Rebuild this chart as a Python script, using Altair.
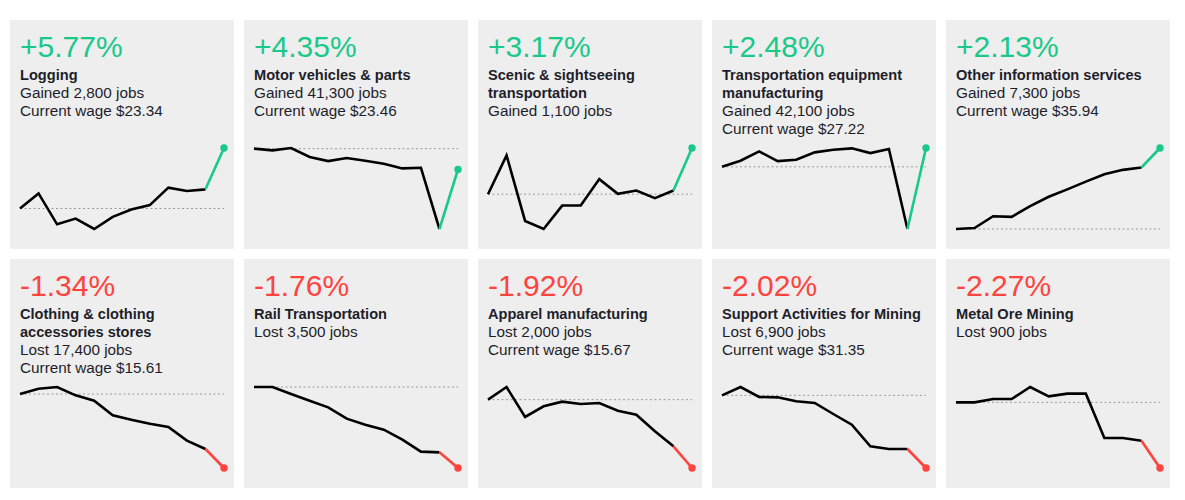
import altair as alt
import pandas as pd

# ---- data ----
pct_labels = ["+5.77%", "+4.35%", "+3.17%", "+2.48%", "+2.13%",
              "-1.34%", "-1.76%", "-1.92%", "-2.02%", "-2.27%"]
title_lines = [
    ["Logging"],
    ["Motor vehicles & parts"],
    ["Scenic & sightseeing", "transportation"],
    ["Transportation equipment", "manufacturing"],
    ["Other information services"],
    ["Clothing & clothing", "accessories stores"],
    ["Rail Transportation"],
    ["Apparel manufacturing"],
    ["Support Activities for Mining"],
    ["Metal Ore Mining"],
]
jobs_text = ["Gained 2,800 jobs", "Gained 41,300 jobs", "Gained 1,100 jobs",
             "Gained 42,100 jobs", "Gained 7,300 jobs", "Lost 17,400 jobs",
             "Lost 3,500 jobs", "Lost 2,000 jobs", "Lost 6,900 jobs", "Lost 900 jobs"]
wage_text = ["Current wage $23.34", "Current wage $23.46", "",
             "Current wage $27.22", "Current wage $35.94", "Current wage $15.61",
             "", "Current wage $15.67", "Current wage $31.35", ""]
series = [
    [75, 120, 28, 45, 14, 50, 72, 85, 137, 127, 132, 255],
    [252, 247, 254, 227, 215, 224, 216, 207, 193, 195, 12, 190],
    [117, 233, 37, 13, 83, 83, 162, 118, 128, 105, 128, 255],
    [197, 215, 243, 214, 218, 240, 248, 252, 238, 250, 12, 253],
    [14, 17, 52, 50, 82, 110, 132, 155, 177, 190, 197, 255],
    [267, 283, 288, 263, 247, 203, 190, 178, 168, 127, 102, 45],
    [288, 288, 267, 247, 227, 193, 175, 160, 130, 94, 92, 45],
    [250, 288, 198, 230, 244, 237, 240, 217, 205, 155, 110, 45],
    [263, 288, 258, 257, 245, 240, 207, 175, 110, 102, 102, 45],
    [242, 242, 252, 252, 288, 260, 268, 268, 135, 135, 127, 45],
]

GREEN = "#1ac98a"
RED = "#ff433d"
FONT = "Liberation Sans"
PW, PH = 224, 229


def panel(k):
    vals = series[k]
    n = len(vals)
    color = GREEN if pct_labels[k].startswith("+") else RED
    df = pd.DataFrame({"i": list(range(n)), "v": vals})
    xs = alt.X("i:Q", axis=None, scale=alt.Scale(domain=[0, n - 1], range=[10, 214], nice=False, zero=False))
    ys = alt.Y("v:Q", axis=None, scale=alt.Scale(range=[209, 128], nice=False, zero=False))

    base_df = pd.DataFrame({"i": [0], "i2": [n - 1], "v": [vals[0]]})
    rule = alt.Chart(base_df).mark_rule(color="#9a9a9a", strokeDash=[2, 2.5], strokeWidth=1).encode(
        x=xs, x2="i2:Q", y=ys)
    line = alt.Chart(df[df.i <= n - 2]).mark_line(color="#000000", strokeWidth=2.6).encode(x=xs, y=ys)
    seg = alt.Chart(df[df.i >= n - 2]).mark_line(color=color, strokeWidth=2.6).encode(x=xs, y=ys)
    dot = alt.Chart(df[df.i == n - 1]).mark_point(filled=True, color=color, size=55, opacity=1).encode(x=xs, y=ys)

    layers = [rule, line, seg, dot]
    layers.append(
        alt.Chart(pd.DataFrame({"t": [pct_labels[k]]})).mark_text(
            font=FONT, fontSize=30, color=color, align="left", baseline="alphabetic"
        ).encode(text="t:N", x=alt.value(10), y=alt.value(37))
    )
    lines = [(t, "bold") for t in title_lines[k]] + [(jobs_text[k], "normal")]
    if wage_text[k]:
        lines.append((wage_text[k], "normal"))
    for j, (t, w) in enumerate(lines):
        layers.append(
            alt.Chart(pd.DataFrame({"t": [t]})).mark_text(
                font=FONT, fontSize=14.6 if w == "bold" else 15.3, fontWeight=w,
                color="#1e1e2a", align="left", baseline="alphabetic"
            ).encode(text="t:N", x=alt.value(10), y=alt.value(60 + 18 * j))
        )
    return alt.layer(*layers).properties(width=PW, height=PH)


chart = alt.concat(*[panel(k) for k in range(10)], columns=5, spacing=10).properties(
    padding={"left": 2, "top": 12, "right": 0, "bottom": 0}
).configure_view(fill="#eeeeee", strokeWidth=0, stroke="transparent")

chart.save("out.html", embed_options={"renderer": "svg", "actions": False})
